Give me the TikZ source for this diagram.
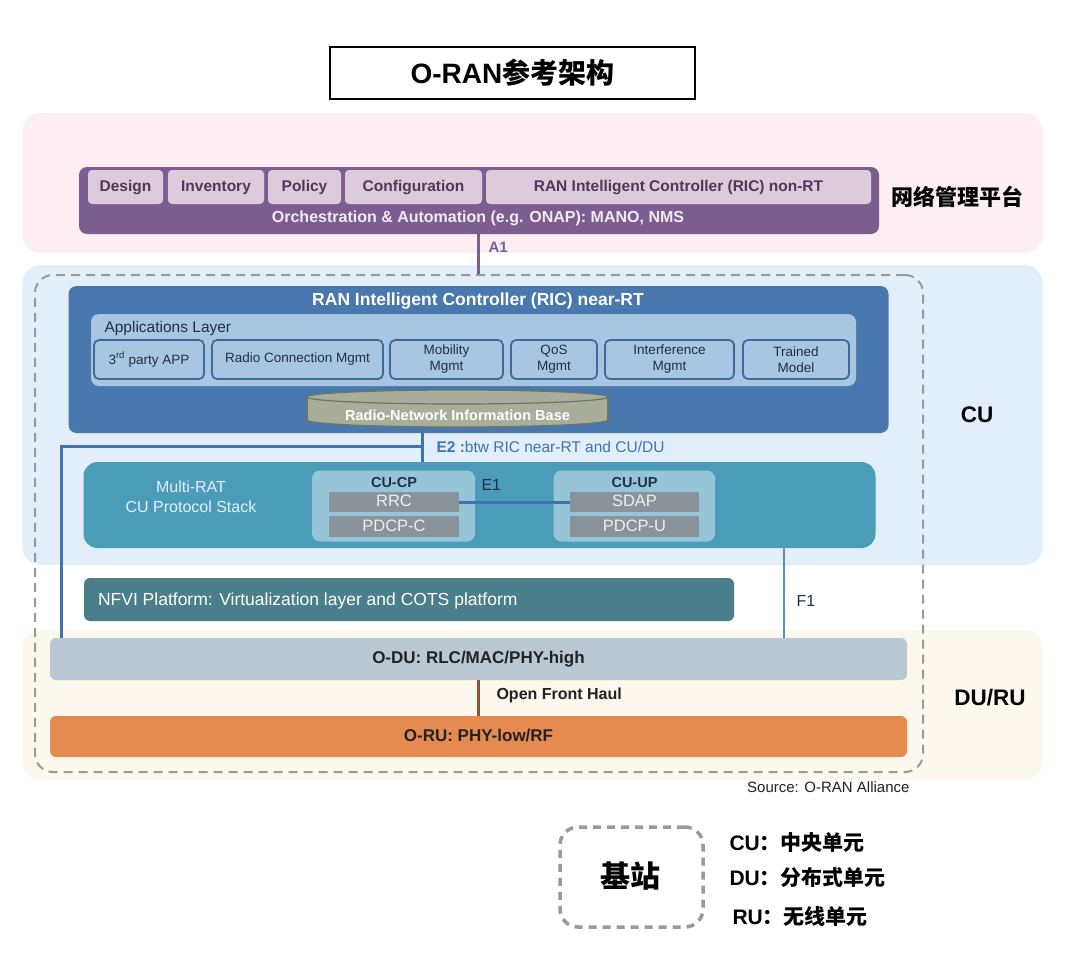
\documentclass[tikz,border=0pt]{standalone}
\usepackage{fontspec}
\setmainfont{Liberation Sans}
\setsansfont{Liberation Sans}
\newfontfamily\cjk{Noto Sans CJK SC}
\newcommand{\fsz}[2]{\fontsize{#1}{#2}\selectfont}
\definecolor{pinkbg}{HTML}{FDEEF3}
\definecolor{bluebg}{HTML}{E2EFFA}
\definecolor{creambg}{HTML}{FDF8EE}
\definecolor{purpleC}{HTML}{7B5E8F}
\definecolor{lilac}{HTML}{DCCBDA}
\definecolor{ptext}{HTML}{4B3A58}
\definecolor{orchtext}{HTML}{F2EAF4}
\definecolor{ricblue}{HTML}{4878AD}
\definecolor{applight}{HTML}{A8C6E1}
\definecolor{appborder}{HTML}{3D6A9A}
\definecolor{apptext}{HTML}{1F3048}
\definecolor{cylfill}{HTML}{A8AE99}
\definecolor{cylborder}{HTML}{6F7566}
\definecolor{e2blue}{HTML}{3E72B2}
\definecolor{f1blue}{HTML}{5B8DC2}
\definecolor{mratC}{HTML}{4A9CB9}
\definecolor{mrattext}{HTML}{E3F1F6}
\definecolor{cupC}{HTML}{95C5D7}
\definecolor{protoC}{HTML}{8A9399}
\definecolor{prototext}{HTML}{EDF0F2}
\definecolor{nfviC}{HTML}{4A7E8B}
\definecolor{oduC}{HTML}{B9C8D3}
\definecolor{oruC}{HTML}{E58A51}
\definecolor{fhC}{HTML}{8A5535}
\definecolor{dashgrey}{HTML}{9A9A9A}
\definecolor{darktext}{HTML}{222222}
\begin{document}
\begin{tikzpicture}[x=1pt,y=-1pt,
  band/.style={rounded corners=18pt, inner sep=0pt},
  psub/.style={fill=lilac, rounded corners=4pt, inner sep=0pt, text height=11.5pt, text depth=3.5pt, font=\bfseries\fsz{15.5}{18}, text=ptext},
  appbox/.style={fill=applight, draw=appborder, line width=1.8pt, rounded corners=5pt, inner sep=0pt, align=center, font=\fsz{13.5}{16}, text=apptext},
  proto/.style={fill=protoC, inner sep=0pt, text height=12pt, text depth=3pt, font=\fsz{16.5}{19}, text=prototext},
  unitbox/.style={fill=cupC, rounded corners=8pt, inner sep=0pt},
  unitlab/.style={font=\bfseries\fsz{14.5}{17}, text=apptext},
  e2line/.style={draw=e2blue, line width=3pt},
  bigbox/.style={rounded corners=6pt, inner sep=0pt, text height=12.5pt, text depth=3.5pt, font=\bfseries\fsz{17}{20}, text=darktext},
  basedash/.style={draw=dashgrey, dash pattern=on 9pt off 6pt, line width=2pt, rounded corners=18pt, inner sep=0pt},
  sidelab/.style={font=\bfseries\fsz{22.5}{26}, text=black},
  legtext/.style={anchor=west, font=\bfseries\fsz{21}{24}}
]
\useasboundingbox (0,0) rectangle (1080,969);
\fill[white] (0,0) rectangle (1080,969);

% title
\node[draw=black, line width=1.2pt, fill=white, minimum width=365pt, minimum height=52pt, inner sep=0pt, font=\bfseries\fsz{28}{32}] (title) at (512.5,73) {O-RAN{\cjk 参考架构}};

% bands
\node[band, fill=pinkbg, minimum width=1020pt, minimum height=140pt] (mgmt) at (532.5,183) {};
\node[band, fill=bluebg, minimum width=1020pt, minimum height=300pt] (cuband) at (532.5,415) {};
\node[band, fill=creambg, minimum width=1020pt, minimum height=150pt] (duband) at (532.5,705) {};

% base station dashed box
\node[basedash, minimum width=888pt, minimum height=497pt] (bs) at (479,523.5) {};

% management
\node[fill=purpleC, rounded corners=8pt, inner sep=0pt, minimum width=800pt, minimum height=67pt] (orch) at (479,200.5) {};
\node[psub, minimum width=75pt, minimum height=34pt] (design) at (125.5,187) {Design};
\node[psub, minimum width=96pt, minimum height=34pt] (inventory) at (216,187) {Inventory};
\node[psub, minimum width=73pt, minimum height=34pt] (policy) at (304.5,187) {Policy};
\node[psub, minimum width=137pt, minimum height=34pt] (config) at (413.5,187) {Configuration};
\node[psub, minimum width=385pt, minimum height=34pt] (nonrt) at (678.5,187) {RAN Intelligent Controller (RIC) non-RT};
\node[font=\bfseries\fsz{16}{19}, text=orchtext] (orchlab) at (478,218) {Orchestration \& Automation (e.g. ONAP): MANO, NMS};
\node[font=\cjk\bfseries\fsz{22}{26}] (mgmtlab) at (957,197) {网络管理平台};

% A1
\coordinate (a1x) at (478,250);
\draw[draw=purpleC, line width=3pt] (orch.south -| a1x) -- (bs.north -| a1x);
\node[anchor=west, font=\bfseries\fsz{15}{18}, text=purpleC] (a1lab) at (485,247) {A1};

% RIC near-RT
\node[fill=ricblue, rounded corners=8pt, inner sep=0pt, minimum width=820pt, minimum height=147pt] (ric) at (478.5,359.5) {};
\node[font=\bfseries\fsz{17.5}{20}, text=white] (rictitle) at (478,301) {RAN Intelligent Controller (RIC) near-RT};
\node[fill=applight, rounded corners=8pt, inner sep=0pt, minimum width=765pt, minimum height=72pt] (applayer) at (473.5,350) {};
\node[anchor=west, font=\fsz{15.5}{18}, text=apptext] (applab) at (101,328) {Applications Layer};
\node[appbox, minimum width=110pt, minimum height=39pt] (app1) at (149,359.5) {3\textsuperscript{rd} party APP};
\node[appbox, minimum width=171pt, minimum height=39pt] (app2) at (297.5,359.5) {Radio Connection Mgmt};
\node[appbox, minimum width=113pt, minimum height=39pt] (app3) at (446.5,359.5) {Mobility\\Mgmt};
\node[appbox, minimum width=86pt, minimum height=39pt] (app4) at (554,359.5) {QoS\\Mgmt};
\node[appbox, minimum width=129pt, minimum height=39pt] (app5) at (669.5,359.5) {Interference\\Mgmt};
\node[appbox, minimum width=106pt, minimum height=39pt] (app6) at (796,359.5) {Trained\\Model};

% cylinder
\filldraw[fill=cylfill, draw=cylborder, line width=1.2pt] (457.5,420) ellipse [x radius=150.5, y radius=7];
\fill[cylfill] (307,397) rectangle (608,420);
\draw[cylborder, line width=1.2pt] (307,397) -- (307,420) (608,397) -- (608,420);
\filldraw[fill=cylfill, draw=cylborder, line width=1.2pt] (457.5,397) ellipse [x radius=150.5, y radius=7];
\node[font=\bfseries\fsz{14.5}{17}, text=white] (rnib) at (457.5,415) {Radio-Network Information Base};

% Multi-RAT CU
\node[fill=mratC, rounded corners=14pt, inner sep=0pt, minimum width=792pt, minimum height=86pt] (mrat) at (479.5,505) {};
\node[text=mrattext, font=\fsz{16}{20}, align=center] (mratlab) at (191,497) {Multi-RAT\\CU Protocol Stack};
\node[unitbox, minimum width=163pt, minimum height=71pt] (cucp) at (393.5,506) {};
\node[unitlab] (cucplab) at (394,483) {CU-CP};
\node[proto, minimum width=130pt, minimum height=20pt] (rrc) at (394,502) {RRC};
\node[proto, minimum width=130pt, minimum height=21pt] (pdcpc) at (394,526.5) {PDCP-C};
\node[unitbox, minimum width=161.5pt, minimum height=71pt] (cuup) at (634.25,506) {};
\node[unitlab] (cuuplab) at (634.5,483) {CU-UP};
\node[proto, minimum width=129pt, minimum height=20pt] (sdap) at (634.5,502) {SDAP};
\node[proto, minimum width=129pt, minimum height=21pt] (pdcpu) at (634.5,526.5) {PDCP-U};
\draw[e2line] (rrc.east) -- (sdap.west);
\node[anchor=west, font=\fsz{16}{19}, text=apptext] (e1lab) at (478,485) {E1};

% NFVI
\node[fill=nfviC, rounded corners=6pt, inner sep=0pt, minimum width=650pt, minimum height=43pt] (nfvi) at (409,599.5) {};
\node[anchor=west, text=white, font=\fsz{17.5}{20}] (nfvilab) at (94.5,601) {NFVI Platform: Virtualization layer and COTS platform};

% DU / RU
\node[bigbox, fill=oduC, minimum width=857pt, minimum height=42pt] (odu) at (478.5,659) {O-DU: RLC/MAC/PHY-high};
\node[bigbox, fill=oruC, minimum width=857pt, minimum height=41pt] (oru) at (478.5,736.5) {O-RU: PHY-low/RF};
\coordinate (fhx) at (478,700);
\draw[draw=fhC, line width=3pt] (odu.south -| fhx) -- (oru.north -| fhx);
\node[anchor=west, font=\bfseries\fsz{16}{19}, text=darktext] (fhlab) at (493,695) {Open Front Haul};

% E2
\coordinate (e2j) at (422,446);
\coordinate (e2l) at (61,446);
\draw[e2line] (ric.south -| e2j) -- (mrat.north -| e2j);
\draw[e2line] (e2j) -- (e2l) -- (e2l |- odu.north);
\node[anchor=west, text=e2blue, font=\fsz{15.5}{18}] (e2lab) at (433,447) {\textbf{E2 :}btw RIC near-RT and CU/DU};

% F1
\coordinate (f1x) at (784,600);
\draw[draw=f1blue, line width=2.5pt] (mrat.south -| f1x) -- (odu.north -| f1x);
\node[anchor=west, font=\fsz{16}{19}, text=apptext] (f1lab) at (793,601) {F1};

% side labels
\node[sidelab] (culab) at (977,415) {CU};
\node[sidelab] (durulab) at (990,698) {DU/RU};
\node[anchor=east, font=\fsz{15}{18}, text=darktext] (source) at (913,787) {Source: O-RAN Alliance};

% legend
\node[draw=dashgrey, dash pattern=on 8pt off 6pt, line width=3.5pt, rounded corners=18pt, inner sep=0pt, minimum width=143pt, minimum height=100pt] (legend) at (631.5,877) {};
\node[font=\cjk\bfseries\fsz{30}{34}] (jizhan) at (630,876) {基站};
\node[legtext] (lcu) at (726,843) {CU{\cjk ：中央单元}};
\node[legtext] (ldu) at (726,878) {DU{\cjk ：分布式单元}};
\node[legtext] (lru) at (729,916) {RU{\cjk ：无线单元}};
\end{tikzpicture}
\end{document}
